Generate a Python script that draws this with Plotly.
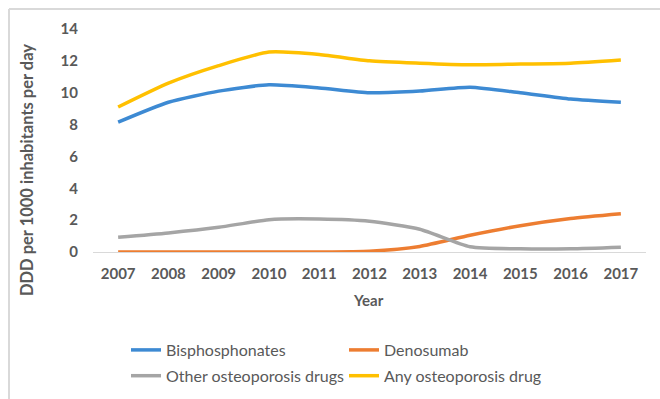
import plotly.graph_objects as go

years = [2007, 2008, 2009, 2010, 2011, 2012, 2013, 2014, 2015, 2016, 2017]
bisphosphonates = [8.15, 9.4, 10.1, 10.5, 10.3, 10.0, 10.1, 10.35, 10.0, 9.6, 9.4]
denosumab = [0.0, 0.0, 0.0, 0.0, 0.0, 0.05, 0.35, 1.05, 1.65, 2.1, 2.4]
other_drugs = [0.93, 1.2, 1.55, 2.03, 2.07, 1.93, 1.43, 0.33, 0.2, 0.2, 0.3]
any_drug = [9.1, 10.6, 11.7, 12.55, 12.4, 12.0, 11.85, 11.75, 11.8, 11.85, 12.05]

y_ticks = [0, 2, 4, 6, 8, 10, 12, 14]

FONT = "Lato"
TXT = "#595959"

# plot area in pixels
L, R, T, B = 93, 646, 29, 252
W, H = 660, 399
pw, ph = R - L, B - T


def px_x(px):
    return (px - L) / pw


def px_y(py):
    return (B - py) / ph


fig = go.Figure()
series = [
    ("Bisphosphonates", bisphosphonates, "#3D8AD3", "legend", "a"),
    ("Denosumab", denosumab, "#ED7D31", "legend2", "b"),
    ("Other osteoporosis drugs", other_drugs, "#A5A5A5", "legend", "c"),
    ("Any osteoporosis drug", any_drug, "#FFC000", "legend2", "d"),
]
for name, vals, col, lg, grp in series:
    fig.add_trace(go.Scatter(
        x=years, y=vals, name=name, mode="lines",
        line=dict(color=col, width=3.5, shape="spline", smoothing=0.6),
        legend=lg, legendgroup=grp, cliponaxis=False,
    ))

fig.update_layout(
    width=W, height=H,
    margin=dict(l=L, r=W - R, t=T, b=H - B, autoexpand=False),
    paper_bgcolor="white", plot_bgcolor="white",
    font=dict(family=FONT, color=TXT),
    showlegend=True,
    legend=dict(x=px_x(126), y=px_y(333), xanchor="left", yanchor="top",
                orientation="v", tracegroupgap=2,
                font=dict(family=FONT, size=16, color=TXT),
                bgcolor="rgba(0,0,0,0)"),
    legend2=dict(x=px_x(344), y=px_y(333), xanchor="left", yanchor="top",
                 orientation="v", tracegroupgap=2,
                 font=dict(family=FONT, size=16, color=TXT),
                 bgcolor="rgba(0,0,0,0)"),
    xaxis=dict(
        range=[2006.5, 2017.5], tickmode="array", tickvals=years,
        ticktext=[str(y) for y in years], showgrid=False, zeroline=False,
        showline=True, linecolor="#D9D9D9", linewidth=1, ticks="",
        tickfont=dict(family=FONT, size=15, color=TXT, weight="bold"),
        ticklabelstandoff=8,
    ),
    yaxis=dict(
        range=[0, 14], tickmode="array", tickvals=y_ticks,
        showgrid=False, zeroline=False, showline=False, ticks="",
        tickfont=dict(family=FONT, size=15, color=TXT, weight="bold"),
        ticklabelstandoff=14,
    ),
    annotations=[
        dict(text="DDD per 1000 inhabitants per day", textangle=-90,
             xref="paper", yref="paper", x=px_x(27), y=px_y(170),
             xanchor="center", yanchor="middle", showarrow=False,
             font=dict(family=FONT, size=16.5, color=TXT, weight="bold")),
        dict(text="Year", xref="paper", yref="paper", x=px_x(368), y=px_y(300),
             xanchor="center", yanchor="middle", showarrow=False,
             font=dict(family=FONT, size=15, color=TXT, weight="bold")),
    ],
    shapes=[
        dict(type="line", xref="paper", yref="paper",
             x0=px_x(9), y0=px_y(9), x1=px_x(670), y1=px_y(9),
             line=dict(color="#D9D9D9", width=2)),
        dict(type="line", xref="paper", yref="paper",
             x0=px_x(9), y0=px_y(9), x1=px_x(9), y1=px_y(410),
             line=dict(color="#D9D9D9", width=2)),
    ],
)

fig.write_html("out.html")
